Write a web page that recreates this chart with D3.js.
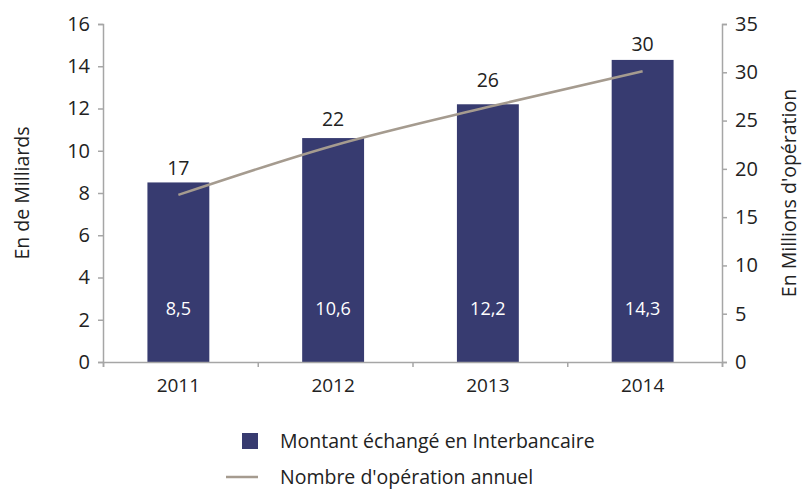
<!DOCTYPE html>
<html>
<head>
<meta charset="utf-8">
<script src="https://cdn.jsdelivr.net/npm/d3@7"></script>
<style>
  body { margin: 0; background: #fff; }
  text { font-family: "Open Sans", "Noto Sans", sans-serif; fill: #222; }
</style>
</head>
<body>
<div id="chart"></div>
<script>
// data
var years = ["2011", "2012", "2013", "2014"];
var montant = [8.5, 10.6, 12.2, 14.3];          // en milliards
var operations = [17.3, 22.4, 26.4, 30.1];       // en millions
var leftTicks = [0, 2, 4, 6, 8, 10, 12, 14, 16];
var rightTicks = [0, 5, 10, 15, 20, 25, 30, 35];

var width = 802, height = 492;
var barColor = "#373b70", lineColor = "#a59b8f", axisColor = "#a6a6a6";
var fs = "19.5px";

var svg = d3.select("#chart").append("svg").attr("width", width).attr("height", height);

var x = d3.scaleBand().domain(years).range([101, 720]).paddingInner(0.6).paddingOuter(0.3);
var yL = d3.scaleLinear().domain([0, 16]).range([362, 24]);
var yR = d3.scaleLinear().domain([0, 35]).range([362, 24]);

// bars
svg.append("g").selectAll("rect")
    .data(years)
    .enter().append("rect")
    .attr("x", function(d) { return x(d); })
    .attr("y", function(d, i) { return yL(montant[i]); })
    .attr("width", x.bandwidth())
    .attr("height", function(d, i) { return yL(0) - yL(montant[i]); })
    .attr("fill", barColor);

// labels inside bars
svg.append("g").selectAll("text")
    .data(years)
    .enter().append("text")
    .attr("x", function(d) { return x(d) + x.bandwidth() / 2; })
    .attr("y", yL(0) - 47)
    .attr("text-anchor", "middle")
    .style("font-size", "18px")
    .style("fill", "#fff")
    .text(function(d, i) { return String(montant[i]).replace(".", ","); });

// axes
var gL = svg.append("g").attr("transform", "translate(103,0)")
    .call(d3.axisLeft(yL).tickValues(leftTicks).tickSize(5).tickPadding(8));
var gR = svg.append("g").attr("transform", "translate(722,0)")
    .call(d3.axisRight(yR).tickValues(rightTicks).tickSize(5).tickPadding(8));

var xEdge = d3.scaleLinear().domain([0, 4]).range([103, 722]);
var gX = svg.append("g").attr("transform", "translate(0,362)")
    .call(d3.axisBottom(xEdge).tickValues([0, 1, 2, 3, 4]).tickSize(5).tickFormat(""));
svg.append("g").selectAll("text")
    .data(years)
    .enter().append("text")
    .attr("x", function(d) { return x(d) + x.bandwidth() / 2; })
    .attr("y", 392)
    .attr("text-anchor", "middle")
    .style("font-size", "19px")
    .text(function(d) { return d; });

[gL, gR, gX].forEach(function(g) {
    g.select(".domain").attr("stroke", axisColor).attr("stroke-width", 1.5);
    g.selectAll(".tick line").attr("stroke", axisColor).attr("stroke-width", 1.5);
    g.selectAll(".tick text").style("font-size", "20px").style("font-family", "'Open Sans', sans-serif").attr("fill", "#222");
});

// line (smoothed like the original)
var line = d3.line()
    .x(function(d, i) { return x(years[i]) + x.bandwidth() / 2; })
    .y(function(d) { return yR(d); })
    .curve(d3.curveMonotoneX);
svg.append("path")
    .datum(operations)
    .attr("d", line)
    .attr("fill", "none")
    .attr("stroke", lineColor)
    .attr("stroke-width", 2.5);

svg.append("g").selectAll("text")
    .data(operations)
    .enter().append("text")
    .attr("x", function(d, i) { return x(years[i]) + x.bandwidth() / 2; })
    .attr("y", function(d) { return yR(d) - 20; })
    .attr("text-anchor", "middle")
    .style("font-size", fs)
    .text(function(d) { return Math.round(d); });

// axis titles
svg.append("text")
    .attr("transform", "translate(29,193) rotate(-90)")
    .attr("text-anchor", "middle")
    .style("font-size", fs)
    .text("En de Milliards");
svg.append("text")
    .attr("transform", "translate(796,193) rotate(-90)")
    .attr("text-anchor", "middle")
    .style("font-size", fs)
    .text("En Millions d'opération");

// legend
var leg = svg.append("g");
leg.append("rect").attr("x", 242).attr("y", 433).attr("width", 16).attr("height", 16).attr("fill", barColor);
leg.append("text").attr("x", 280).attr("y", 448).style("font-size", fs).text("Montant échangé en Interbancaire");
leg.append("line").attr("x1", 226).attr("x2", 258).attr("y1", 477).attr("y2", 477)
    .attr("stroke", lineColor).attr("stroke-width", 2.5);
leg.append("text").attr("x", 280).attr("y", 484).style("font-size", fs).text("Nombre d'opération annuel");
</script>
</body>
</html>
